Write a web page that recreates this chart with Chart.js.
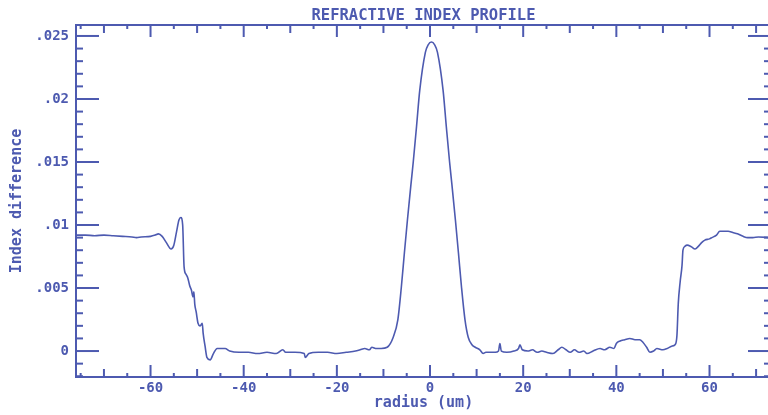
<!DOCTYPE html>
<html><head><meta charset="utf-8">
<script src="https://cdn.jsdelivr.net/npm/chart.js@4/dist/chart.umd.min.js"></script>
<style>html,body{margin:0;padding:0;background:#fff;overflow:hidden;width:768px;height:415px}#wrap{width:772px;height:415px}</style>
</head><body><div id="wrap"><canvas id="c" width="772" height="415"></canvas></div>
<script>
const radius = [
-76,-74,-72,-70,-68,-66,-64,-63,-62,-60,-59,-58.3,-57.5,-56.6,-55.6,-55.0,-54.4,-53.9,-53.5,-53.1,-52.8,-52.4,-52.0,-51.6,-51.2,-50.9,-50.7,-50.5,-50.2,-49.8,-49.4,-49.1,-48.9,-48.7,-48.3,-47.9,-47.2,-46.5,-45.7,-44,-43,-41,-39,-37,-35,-33,-31.6,-31,-29,-27,-26.8,-26,-24,-22,-20,-18,-16,-15,-14,-13,-12.5,-11.5,-10.5,-9.2,-7.9,-6.9,-6.15,-5.5,-4.85,-4.1,-3.6,-2.9,-2.2,-1.0,-0.4,0.3,1.0,1.6,2.8,3.5,4.2,4.7,5.45,6.1,6.75,7.5,8.2,9.0,9.7,10.7,11.4,12,13,14,14.7,15.0,15.3,16.5,18,19.0,19.3,19.8,21,22,23,24,25,26.4,27.5,28.3,29.2,30.1,31,32,33,33.7,35,36.5,37.5,38.6,39.5,40.0,40.8,41.8,42.9,44,45,45.7,46.5,47.2,48,48.7,50,50.9,52,52.6,53.0,53.3,53.7,54.1,54.3,54.7,55.2,56.0,56.9,57.6,58.3,59.0,60.0,60.5,61.5,62.2,63,64,65,66,67.2,68.2,69.3,70.5,73.2
];
const indexDiff = [
0.0092,0.0092,0.00915,0.0092,0.00915,0.0091,0.00905,0.0090,0.00905,0.0091,0.0092,0.0093,0.0091,0.0086,0.0081,0.0084,0.0095,0.0104,0.0106,0.0100,0.0067,0.0061,0.0058,0.0052,0.0048,0.0043,0.0047,0.0037,0.0031,0.0022,0.0020,0.0021,0.0022,0.0014,0.0004,-0.0005,-0.0007,-0.0002,0.0002,0.0002,0.0000,-0.0001,-0.0001,-0.0002,-0.0001,-0.0002,0.0001,-0.0001,-0.0001,-0.0002,-0.0005,-0.0002,-0.0001,-0.0001,-0.0002,-0.0001,0.0000,0.0001,0.0002,0.0001,0.0003,0.0002,0.0002,0.0003,0.0011,0.0025,0.0051,0.0078,0.0104,0.0132,0.0150,0.0178,0.0207,0.0237,0.0243,0.02452,0.0243,0.0237,0.0207,0.0178,0.0150,0.0132,0.0104,0.0078,0.0051,0.0025,0.0011,0.0005,0.0003,0.0001,-0.0002,-0.0001,-0.0001,-0.0001,0.0000,0.0006,0.0000,-0.0001,0.0000,0.0002,0.0005,0.0001,0.0000,0.0001,-0.0001,0.0000,-0.0001,-0.0002,0.0001,0.0003,0.0001,-0.0001,0.0001,-0.0001,0.0000,-0.0002,0.0000,0.0002,0.0001,0.0003,0.0002,0.0006,0.0008,0.0009,0.0010,0.0009,0.0009,0.0007,0.0003,-0.0001,0.0000,0.0002,0.0001,0.0002,0.0004,0.0005,0.0012,0.0038,0.0055,0.0068,0.0080,0.0083,0.0084,0.0083,0.0081,0.0083,0.0086,0.0088,0.0089,0.0090,0.0092,0.0095,0.0095,0.0095,0.0094,0.0093,0.0091,0.0090,0.0090,0.00905,0.0090
];
const xTickValues = [-60,-40,-20,0,20,40,60];
const xTickLabels = ["-60","-40","-20","0","20","40","60"];
const yTickValues = [0,0.005,0.01,0.015,0.02,0.025];
const yTickLabels = ["0",".005",".01",".015",".02",".025"];
const titleText = "REFRACTIVE INDEX PROFILE";
const xTitle = "radius (um)";
const yTitle = "Index difference";

const COLOR = '#4d5ab0';
const FONT = "'DejaVu Sans Mono', monospace";

const framePlugin = {
  id: 'frame',
  afterDatasetsDraw(chart) {
    const {ctx, chartArea: a, scales: {x, y}} = chart;
    ctx.save();
    ctx.strokeStyle = COLOR;
    ctx.lineWidth = 2;
    ctx.strokeRect(a.left, a.top, a.right - a.left, a.bottom - a.top);
    const seg = (x1, y1, x2, y2) => { ctx.beginPath(); ctx.moveTo(x1, y1); ctx.lineTo(x2, y2); ctx.stroke(); };
    for (let v = Math.ceil(x.min / 5) * 5; v <= x.max; v += 5) {
      const px = x.getPixelForValue(v);
      const len = (v % 20 === 0) ? 12 : ((v % 10 === 0) ? 8 : 4);
      seg(px, a.bottom, px, a.bottom - len);
      seg(px, a.top, px, a.top + len);
    }
    for (let i = Math.ceil(y.min / 0.001); i * 0.001 <= y.max; i++) {
      const py = y.getPixelForValue(i * 0.001);
      const len = (i % 5 === 0) ? 23 : 7;
      seg(a.left, py, a.left + len, py);
      seg(a.right, py, a.right - len, py);
    }
    ctx.restore();
  }
};

new Chart(document.getElementById('c'), {
  type: 'line',
  data: {
    datasets: [{
      data: radius.map((r, i) => ({x: r, y: indexDiff[i]})),
      borderColor: COLOR,
      borderWidth: 1.6,
      pointRadius: 0,
      cubicInterpolationMode: 'monotone',
      fill: false
    }]
  },
  options: {
    responsive: false,
    devicePixelRatio: 1,
    animation: false,
    layout: {padding: {right: 1}},
    plugins: {
      legend: {display: false},
      tooltip: {enabled: false},
      title: {
        display: true, text: titleText, color: COLOR, fullSize: false,
        font: {family: FONT, size: 15.5, weight: 'bold', lineHeight: 1.2},
        padding: {top: 6.4, bottom: 0}
      }
    },
    scales: {
      x: {
        type: 'linear', min: -76, max: 73.2,
        grid: {display: false, drawTicks: false}, border: {display: false},
        afterFit: s => { s.height = 38; },
        afterBuildTicks: s => { s.ticks = xTickValues.map(v => ({value: v})); },
        ticks: {
          color: COLOR, padding: 3, maxRotation: 0, autoSkip: false,
          font: {family: FONT, size: 14, weight: 'bold'},
          callback: (v) => { const i = xTickValues.indexOf(v); return i >= 0 ? xTickLabels[i] : ''; }
        },
        title: {display: true, text: xTitle, color: COLOR, font: {family: FONT, size: 15, weight: 'bold', lineHeight: 1.2}, padding: {top: 0, bottom: 3}}
      },
      y: {
        type: 'linear', min: -0.00206, max: 0.02587,
        grid: {display: false, drawTicks: false}, border: {display: false},
        afterFit: s => { s.width = 76; },
        afterBuildTicks: s => { s.ticks = yTickValues.map(v => ({value: v})); },
        ticks: {
          color: COLOR, padding: 7, autoSkip: false,
          font: {family: FONT, size: 14, weight: 'bold'},
          callback: (v) => { const i = yTickValues.indexOf(v); return i >= 0 ? yTickLabels[i] : ''; }
        },
        title: {display: true, text: yTitle, color: COLOR, font: {family: FONT, size: 15, weight: 'bold', lineHeight: 1.2}, padding: {top: 8, bottom: 0}}
      }
    }
  },
  plugins: [framePlugin]
});
</script>
</body></html>
